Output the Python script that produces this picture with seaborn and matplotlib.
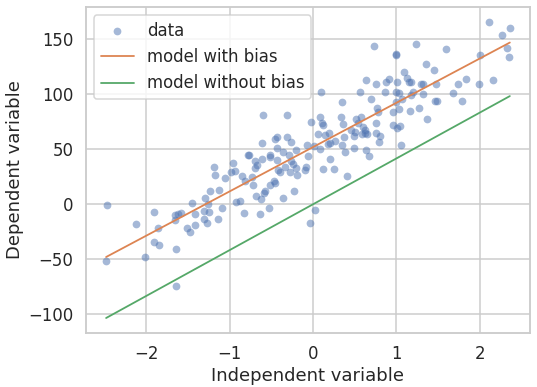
import numpy as np
import matplotlib
matplotlib.use("Agg")
import matplotlib.pyplot as plt
import seaborn as sns

x_data = [-2.47, -2.48, -2.12, -2.01, -1.91, -1.90, -1.86, -1.84, -1.64, -1.64,
          -1.66, -1.65, -1.62, -1.58, -1.51, -1.47, -1.45, -1.42, -1.42, -1.29,
          -1.31, -1.31, -1.27, -1.25, -1.26, -1.23, -1.19, -1.17, -1.14, -1.13,
          -1.09, -1.06, -0.98, -0.96, -0.93, -0.92, -0.87, -0.85, -0.83, -0.82,
          -0.78, -0.77, -0.73, -0.72, -0.70, -0.69, -0.67, -0.68, -0.63, -0.62,
          -0.61, -0.61, -0.60, -0.59, -0.57, -0.53, -0.51, -0.51, -0.52, -0.47,
          -0.46, -0.45, -0.43, -0.43, -0.43, -0.42, -0.40, -0.36, -0.36, -0.33,
          -0.31, -0.31, -0.29, -0.28, -0.26, -0.26, -0.24, -0.23, -0.20, -0.20,
          -0.19, -0.10, -0.08, -0.07, -0.06, -0.03, -0.02, 0.01, 0.03, 0.06,
          0.09, 0.09, 0.10, 0.11, 0.12, 0.12, 0.14, 0.18, 0.19, 0.20,
          0.20, 0.25, 0.26, 0.34, 0.35, 0.35, 0.36, 0.37, 0.38, 0.41,
          0.46, 0.49, 0.49, 0.50, 0.51, 0.54, 0.56, 0.57, 0.59, 0.60,
          0.62, 0.62, 0.64, 0.64, 0.65, 0.67, 0.69, 0.73, 0.75, 0.76,
          0.76, 0.77, 0.78, 0.79, 0.80, 0.86, 0.88, 0.91, 0.96, 0.96,
          0.99, 1.00, 1.01, 1.01, 1.00, 1.00, 1.03, 1.03, 1.04, 1.06,
          1.07, 1.09, 1.13, 1.15, 1.16, 1.18, 1.18, 1.20, 1.24, 1.27,
          1.30, 1.32, 1.32, 1.35, 1.37, 1.45, 1.46, 1.48, 1.49, 1.59,
          1.68, 1.74, 1.79, 1.84, 1.99, 2.00, 2.11, 2.16, 2.27, 2.33,
          2.35, 2.36]
y_data = [-1, -52, -18, -48, -7, -34, -22, -37, -41, -74,
          -14, -10, -9, -8, -22, -25, 1, -9, -19, 6,
          -6, -13, -17, -7, 0, 12, 34, 27, -13, 13,
          -3, 24, 29, 38, 30, 2, 3, 26, -8, 21,
          45, 45, 25, 18, 39, 33, 36, 8, -9, 5,
          41, 56, 81, 10, 12, -3, 43, 45, 18, 21,
          19, 59, 61, 51, 40, 31, 29, 48, 6, 34,
          81, 61, 45, 29, 57, 39, 37, 12, 49, 33,
          27, 31, 34, 54, 44, -17, 75, 53, -5, 64,
          50, 79, 102, 74, 72, 32, 63, 55, 65, 56,
          41, 32, 58, 79, 93, 54, 73, 61, 48, 26,
          68, 62, 51, 66, 78, 74, 102, 79, 64, 70,
          68, 65, 49, 113, 64, 44, 96, 144, 65, 74,
          109, 88, 84, 57, 62, 102, 111, 114, 84, 72,
          136, 137, 69, 111, 102, 93, 87, 101, 71, 54,
          96, 120, 115, 111, 85, 111, 99, 102, 146, 88,
          109, 109, 100, 128, 78, 122, 94, 109, 94, 141,
          101, 109, 94, 114, 109, 136, 166, 113, 154, 142,
          134, 160]

# fitted parameters
w_bias, b_bias = 40.3, 52.0
w_nobias = 41.7

x = np.array(x_data)
y_bias = w_bias * x + b_bias
y_nobias = w_nobias * x

sns.set_theme(style="whitegrid", context="talk")

fig, ax = plt.subplots(figsize=(537 / 72, 387 / 72), dpi=72)
fig.subplots_adjust(left=0.160, right=0.987, top=0.982, bottom=0.140)

sns.scatterplot(x=x, y=y_data, alpha=0.5, s=60, linewidth=0, label="data", ax=ax)
sns.lineplot(x=x, y=y_bias, color="C1", linewidth=1.8, label="model with bias", ax=ax)
sns.lineplot(x=x, y=y_nobias, color="C2", linewidth=1.8, label="model without bias", ax=ax)

ax.set_xlabel("Independent variable")
ax.set_ylabel("Dependent variable")
ax.legend(loc="upper left")

fig.savefig("out.png", dpi=72)
